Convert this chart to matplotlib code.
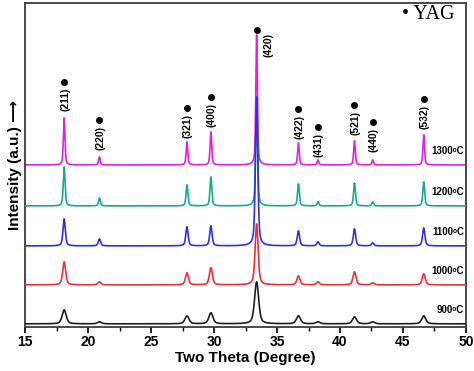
import numpy as np
import matplotlib
matplotlib.use("Agg")
import matplotlib.pyplot as plt
from matplotlib.ticker import MultipleLocator

# YAG reflections (2theta, degrees) and Miller indices
peak_pos = [18.1, 20.9, 27.85, 29.75, 33.38, 36.7, 38.25, 41.15, 42.6, 46.65]
hkl = ["(211)", "(220)", "(321)", "(400)", "(420)", "(422)", "(431)", "(521)", "(440)", "(532)"]
marker_y = [245, 207, 219, 230, 297, 218, 200, 222, 205, 228]

# one pattern per annealing temperature (offset stack, arbitrary units)
temps = ["1300", "1200", "1100", "1000", "900"]
baselines = [162, 121, 81, 42, 3]
fwhm = [0.15, 0.17, 0.22, 0.28, 0.38]
h1300 = [47, 8, 23, 33, 130, 22, 5, 24, 5, 30]
h1200 = [39, 8, 21, 29, 110, 22, 4, 23, 4, 24]
h1100 = [27, 7, 19, 20, 149, 15, 4, 17, 3, 18]
h1000 = [23, 3, 12, 17, 61, 9, 3, 13, 2, 11]
h900 = [14, 2, 8, 11, 42, 8, 2, 7, 2, 8]
heights = [h1300, h1200, h1100, h1000, h900]
colors = ["#e21fe0", "#17a88e", "#3232d2", "#ea2e3a", "#1e1e1e"]


def pattern(x, heights, width, base):
    y = np.full_like(x, base, dtype=float)
    for c, h in zip(peak_pos, heights):
        d = (x - c) / (width / 2)
        y += h * (0.5 / (1 + d**2) + 0.5 * np.exp(-np.log(2) * d**2))
    return y


plt.rcParams["font.family"] = ["Liberation Sans", "DejaVu Sans"]
plt.rcParams["font.weight"] = "bold"

fig = plt.figure(figsize=(4.74, 3.71), dpi=100)
ax = fig.add_axes([0.053, 0.119, 0.93, 0.873])

x = np.arange(15, 50.001, 0.01)
for i, t in enumerate(temps):
    ax.plot(x, pattern(x, heights[i], fwhm[i], baselines[i]), color=colors[i], lw=1.2, zorder=2 + i)
    ax.text(49.85, baselines[i] + 14, t + "\u1d52C", ha="right", va="center", fontsize=7,
            fontweight="bold", zorder=10)

for p, lab, my in zip(peak_pos, hkl, marker_y):
    ax.plot(p, my, "o", color="black", ms=4, zorder=12)
    dx = 12 if lab == "(420)" else 1
    dy = -3 if lab == "(420)" else -6
    ax.annotate(lab, (p, my), xytext=(dx, dy), textcoords="offset pixels", rotation=90,
                ha="center", va="top", fontsize=7.5, fontweight="bold", zorder=12)

ax.text(0.975, 0.965, "\u2022 YAG", transform=ax.transAxes, ha="right", va="center",
        fontsize=14.5, fontweight="normal", family="Liberation Serif")

ax.set_xlim(15, 50)
ax.set_ylim(0, 324)
ax.set_yticks([])
ax.xaxis.set_major_locator(MultipleLocator(5))
ax.xaxis.set_minor_locator(MultipleLocator(2.5))
ax.tick_params(axis="x", which="major", direction="out", length=4, width=1.2, labelsize=10, pad=2)
ax.tick_params(axis="x", which="minor", direction="out", length=3, width=1.0)
for lbl in ax.get_xticklabels():
    lbl.set_fontweight("bold")
for s in ax.spines.values():
    s.set_color("#3c3c3c")
    s.set_linewidth(1.3)

ax.set_xlabel("Two Theta (Degree)", fontsize=11, fontweight="bold", labelpad=1)
ax.set_ylabel("Intensity (a.u.) \u27f6", fontsize=11, fontweight="bold", labelpad=2)

fig.savefig("out.png", dpi=100)
